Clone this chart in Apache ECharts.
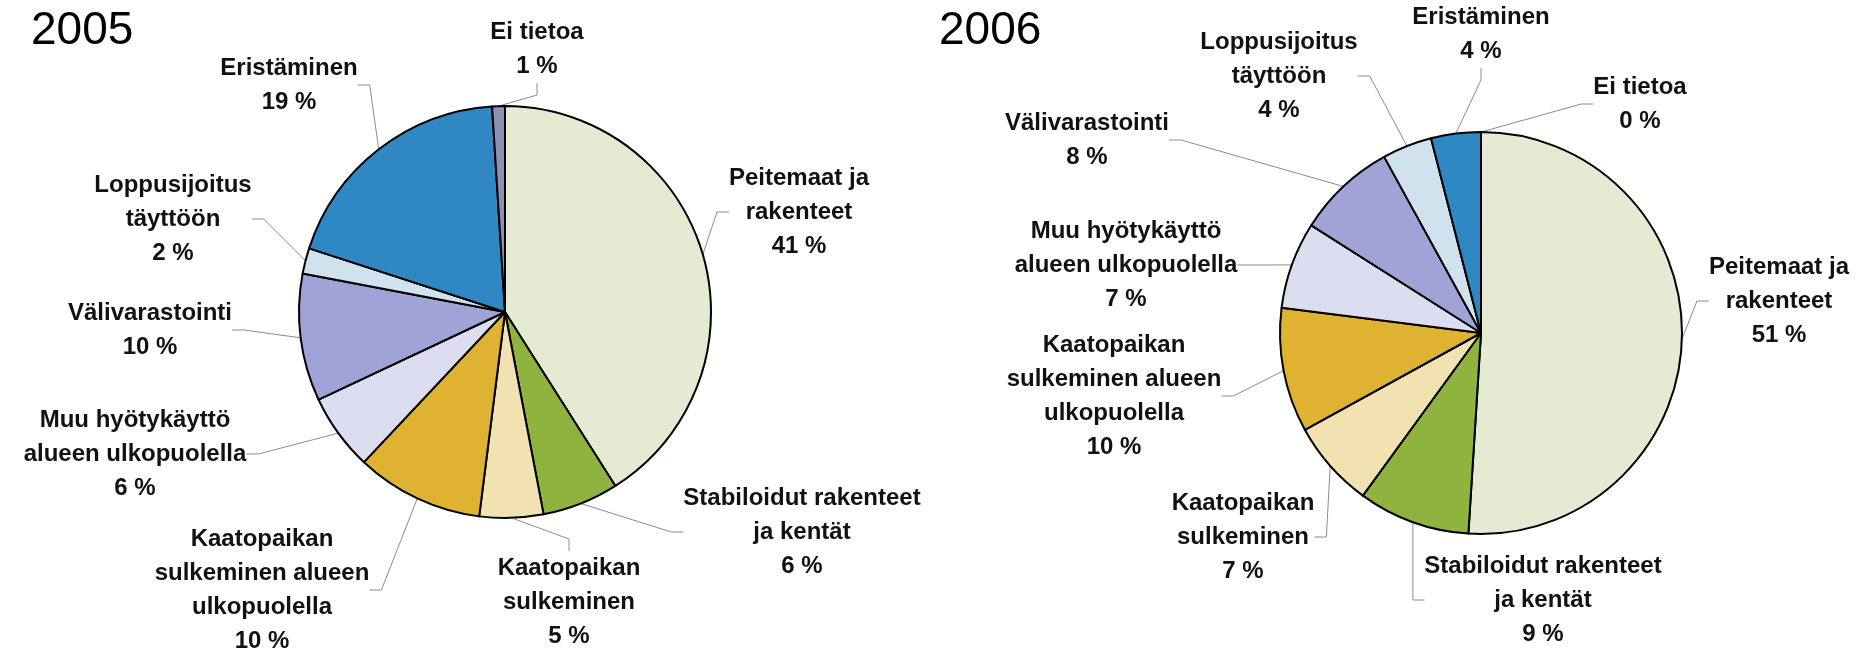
<!DOCTYPE html>
<html>
<head>
<meta charset="utf-8">
<script src="https://cdn.jsdelivr.net/npm/echarts@6/dist/echarts.min.js"></script>
<style>
  html, body { margin: 0; background: #fff; }
  #main { width: 1870px; height: 654px; }
</style>
</head>
<body>
<div id="main"></div>
<script>
// categories, clockwise from 12 o'clock
var categories = [
  'Peitemaat ja\nrakenteet',
  'Stabiloidut rakenteet\nja kentät',
  'Kaatopaikan\nsulkeminen',
  'Kaatopaikan\nsulkeminen alueen\nulkopuolella',
  'Muu hyötykäyttö\nalueen ulkopuolella',
  'Välivarastointi',
  'Loppusijoitus\ntäyttöön',
  'Eristäminen',
  'Ei tietoa'
];
var years = ['2005', '2006'];
var values2005 = [41, 6, 5, 10, 6, 10, 2, 19, 1];
var values2006 = [51, 9, 7, 10, 7, 8, 4, 4, 0];

var colors = ['#e5ebd3', '#8fb33f', '#f2e2b2', '#e0b232', '#dcddf0', '#a0a3d6', '#cfe2ee', '#2f87c4', '#8a93b5'];

// label centres, placed by hand as in the original chart
var labelPos2005 = [[799, 212], [802, 532], [569, 602], [262, 590], [135, 454], [150, 330], [173, 219], [289, 85], [537, 49]];
var labelPos2006 = [[1779, 301], [1543, 600], [1243, 537], [1114, 396], [1126, 265], [1087, 140], [1279, 76], [1481, 34], [1640, 104]];

var labelFont = 'Arial, "Liberation Sans", sans-serif';

function makePie(values, center, radius, labelPos) {
  return {
    type: 'pie',
    center: center,
    radius: radius,
    startAngle: 90,
    clockwise: true,
    silent: true,
    avoidLabelOverlap: false,
    data: categories.map(function (name, i) {
      return { name: name, value: values[i], itemStyle: { color: colors[i] } };
    }),
    itemStyle: { borderColor: '#000', borderWidth: 2 },
    label: {
      show: true,
      position: 'outside',
      formatter: '{b}\n{c} %',
      color: '#111',
      fontFamily: labelFont,
      fontWeight: 'bold',
      fontSize: 24,
      lineHeight: 34,
      align: 'center'
    },
    labelLine: {
      show: true,
      length: 10,
      length2: 12,
      smooth: false,
      lineStyle: { color: '#8c8c8c', width: 1 }
    },
    labelLayout: function (p) {
      var pos = labelPos[p.dataIndex];
      return { x: pos[0], y: pos[1], align: 'center', verticalAlign: 'middle' };
    }
  };
}

var myChart = echarts.init(document.getElementById('main'));
myChart.setOption({
  animation: false,
  backgroundColor: '#fff',
  title: [
    { text: years[0], left: 26, top: 3, textStyle: { fontFamily: labelFont, fontWeight: 'normal', fontSize: 46, color: '#000' } },
    { text: years[1], left: 934, top: 3, textStyle: { fontFamily: labelFont, fontWeight: 'normal', fontSize: 46, color: '#000' } }
  ],
  series: [
    makePie(values2005, [505, 312], 206, labelPos2005),
    makePie(values2006, [1481, 333], 201, labelPos2006)
  ]
});
</script>
</body>
</html>
